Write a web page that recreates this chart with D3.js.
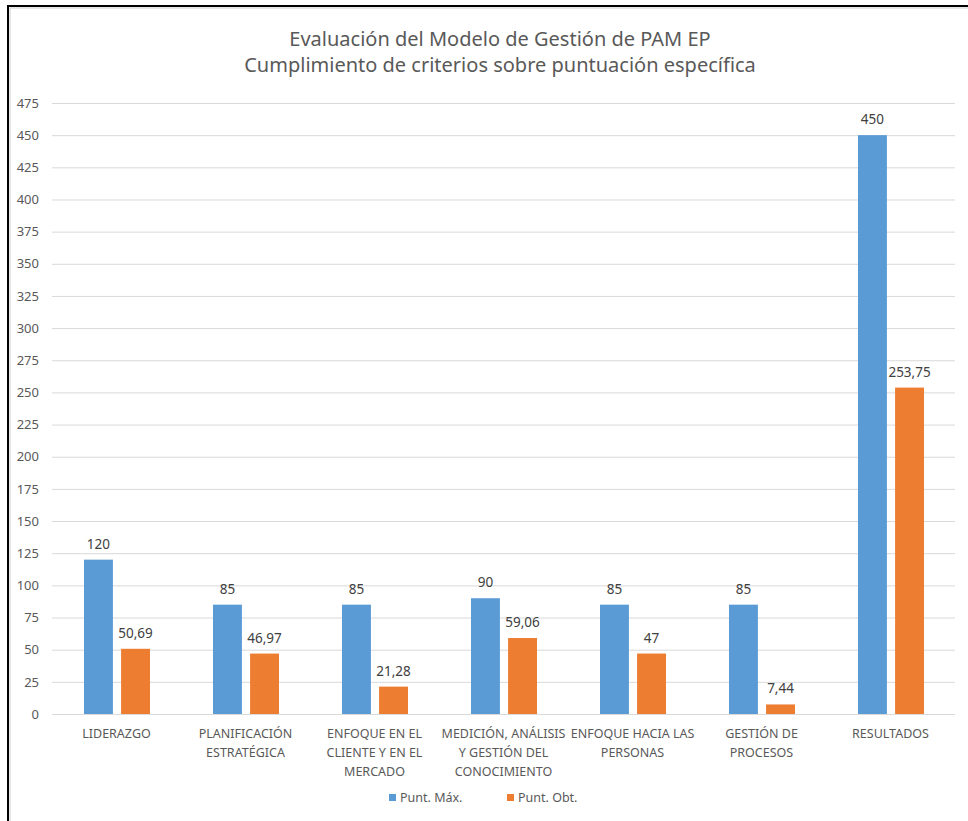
<!DOCTYPE html>
<html>
<head>
<meta charset="utf-8">
<script src="https://cdn.jsdelivr.net/npm/d3@7"></script>
<style>
  body { margin: 0; background: #fff; }
  svg text { font-family: "Noto Sans", sans-serif; }
</style>
</head>
<body>
<svg id="chart"></svg>
<script>
const categories = ["LIDERAZGO", "PLANIFICACIÓN ESTRATÉGICA", "ENFOQUE EN EL CLIENTE Y EN EL MERCADO",
  "MEDICIÓN, ANÁLISIS Y GESTIÓN DEL CONOCIMIENTO", "ENFOQUE HACIA LAS PERSONAS", "GESTIÓN DE PROCESOS", "RESULTADOS"];
const categoryLines = [
  ["LIDERAZGO"],
  ["PLANIFICACIÓN", "ESTRATÉGICA"],
  ["ENFOQUE EN EL", "CLIENTE Y EN EL", "MERCADO"],
  ["MEDICIÓN, ANÁLISIS", "Y GESTIÓN DEL", "CONOCIMIENTO"],
  ["ENFOQUE HACIA LAS", "PERSONAS"],
  ["GESTIÓN DE", "PROCESOS"],
  ["RESULTADOS"]
];
const seriesNames = ["Punt. Máx.", "Punt. Obt."];
const puntMax = [120, 85, 85, 90, 85, 85, 450];
const puntObt = [50.69, 46.97, 21.28, 59.06, 47, 7.44, 253.75];
const yTicks = d3.range(0, 476, 25);
const titleLines = ["Evaluación del Modelo de Gestión de PAM EP", "Cumplimiento de criterios sobre puntuación específica"];

const W = 968, H = 821;
const margin = { top: 103, right: 13, bottom: 107, left: 52 };
const width = W - margin.left - margin.right;
const height = H - margin.top - margin.bottom;
const colors = ["#5B9BD5", "#ED7D31"];

const svg = d3.select("#chart").attr("width", W).attr("height", H);

// frame
svg.append("rect").attr("x", 8).attr("y", 6).attr("width", W + 20).attr("height", H + 20)
  .attr("fill", "none").attr("stroke", "#000").attr("stroke-width", 2);
svg.append("rect").attr("x", 10).attr("y", 8).attr("width", W + 20).attr("height", H + 20)
  .attr("fill", "none").attr("stroke", "#d0d0d0").attr("stroke-width", 1);

// title
svg.selectAll(".title").data(titleLines).join("text")
  .attr("class", "title")
  .attr("x", 500).attr("y", (d, i) => 46 + i * 26)
  .attr("text-anchor", "middle")
  .attr("font-size", 20).attr("fill", "#595959")
  .text(d => d);

const g = svg.append("g").attr("transform", `translate(${margin.left},${margin.top})`);

const x = d3.scaleBand().domain(categories).range([0, width]).paddingInner(0).paddingOuter(0);
const x1 = d3.scaleBand().domain(seriesNames).range([32, x.bandwidth() - 31]).paddingInner(0.22);
const y = d3.scaleLinear().domain([0, 475]).range([height, 0]);

const yAxis = g.append("g")
  .call(d3.axisLeft(y).tickValues(yTicks).tickSize(-width).tickPadding(13));
yAxis.select(".domain").remove();
yAxis.selectAll(".tick line").attr("stroke", "#d9d9d9");
yAxis.selectAll(".tick text").attr("fill", "#595959").attr("font-size", 13)
  .attr("font-family", "'Noto Sans', sans-serif");

const data = categories.map((c, i) => ({ cat: c, vals: [puntMax[i], puntObt[i]] }));
const fmt = v => String(v).replace(".", ",");

const groups = g.selectAll(".grp").data(data).join("g")
  .attr("class", "grp")
  .attr("transform", d => `translate(${x(d.cat)},0)`);

groups.selectAll("rect").data(d => d.vals.map((v, j) => ({ v, s: seriesNames[j], j }))).join("rect")
  .attr("x", d => x1(d.s))
  .attr("width", x1.bandwidth())
  .attr("y", d => y(d.v))
  .attr("height", d => height - y(d.v))
  .attr("fill", d => colors[d.j]);

groups.selectAll(".lbl").data(d => d.vals.map((v, j) => ({ v, s: seriesNames[j], j }))).join("text")
  .attr("class", "lbl")
  .attr("x", d => x1(d.s) + x1.bandwidth() / 2)
  .attr("y", d => y(d.v) - 11)
  .attr("text-anchor", "middle")
  .attr("font-size", 13.5).attr("fill", "#404040")
  .text(d => fmt(d.v));

// category labels
groups.append("text")
  .attr("text-anchor", "middle")
  .attr("font-size", 12.5).attr("fill", "#595959")
  .selectAll("tspan").data((d, i) => categoryLines[i]).join("tspan")
  .attr("x", x.bandwidth() / 2)
  .attr("y", (d, i) => height + 24 + i * 19)
  .text(d => d);

// legend
const legend = svg.append("g").attr("transform", "translate(389,802)");
const legendX = [0, 118];
seriesNames.forEach((s, i) => {
  legend.append("rect").attr("x", legendX[i]).attr("y", -8).attr("width", 7).attr("height", 7).attr("fill", colors[i]);
  legend.append("text").attr("x", legendX[i] + 11).attr("y", 0)
    .attr("font-size", 12.5).attr("fill", "#595959").text(s);
});
</script>
</body>
</html>
